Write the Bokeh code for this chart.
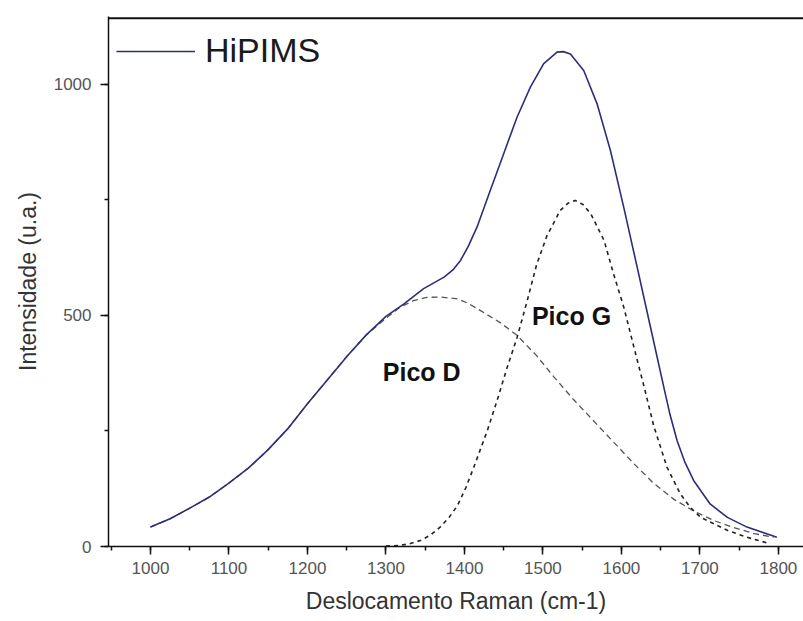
from bokeh.plotting import figure
from bokeh.models import (Range1d, SingleIntervalTicker, Span, Legend, LegendItem)
from bokeh.core.properties import value
from bokeh.embed import file_html
from bokeh.resources import INLINE

# ---- data ----
raman_hipims = [1000, 1025, 1049, 1075, 1099, 1125, 1149, 1175, 1200, 1225, 1251, 1275,
                1300, 1323, 1348, 1374, 1385, 1395, 1405, 1416, 1433, 1450, 1467, 1484,
                1501, 1518, 1526, 1535, 1552, 1569, 1586, 1603, 1620, 1637, 1654, 1662,
                1671, 1681, 1692, 1713, 1735, 1760, 1798]
int_hipims = [42, 60, 82, 107, 136, 170, 208, 255, 309, 360, 413, 458,
              498, 525, 558, 583, 598, 619, 650, 691, 771, 850, 929, 994,
              1045, 1070, 1071, 1066, 1030, 958, 857, 734, 605, 475, 345, 285,
              229, 182, 143, 92, 63, 42, 20]

raman_d = [1000, 1025, 1049, 1075, 1099, 1125, 1149, 1175, 1200, 1225, 1251, 1275,
           1300, 1318, 1335, 1352, 1369, 1391, 1405, 1420, 1446, 1467, 1492, 1514,
           1539, 1565, 1590, 1616, 1641, 1667, 1692, 1718, 1743, 1769, 1794]
int_d = [42, 60, 82, 107, 136, 170, 208, 255, 309, 360, 413, 458,
         494, 518, 532, 539, 540, 536, 526, 511, 484, 457, 413, 367,
         318, 271, 226, 179, 137, 102, 77, 56, 41, 28, 20]

raman_g = [1300, 1316, 1330, 1344, 1357, 1369, 1380, 1391, 1402, 1412, 1429, 1442,
           1454, 1467, 1480, 1492, 1505, 1522, 1532, 1541, 1551, 1561, 1578, 1590,
           1603, 1616, 1629, 1641, 1658, 1675, 1688, 1701, 1735, 1760, 1785]
int_g = [1, 2, 6, 13, 25, 42, 62, 88, 128, 172, 250, 318,
         385, 452, 532, 610, 672, 727, 743, 749, 740, 720, 662, 590,
         518, 431, 345, 262, 172, 114, 84, 63, 35, 20, 8]

legend_label = "HiPIMS"
peak_labels = ["Pico D", "Pico G"]
peak_label_x = [1296, 1486]
peak_label_y = [377, 498]

x_title = "Deslocamento Raman (cm-1)"
y_title = "Intensidade (u.a.)"

FONT = "Liberation Sans"

p = figure(width=803, height=621, output_backend="svg", toolbar_location=None,
           x_range=Range1d(946.5, 1832), y_range=Range1d(0, 1147),
           min_border_left=108, min_border_right=0, min_border_top=16,
           min_border_bottom=75)
p.outline_line_color = None
p.xgrid.visible = False
p.ygrid.visible = False
p.background_fill_color = "white"
p.border_fill_color = "white"

# axes
for ax in (p.xaxis[0], p.yaxis[0]):
    ax.axis_line_color = "#111111"
    ax.axis_line_width = 1.5
    ax.major_tick_line_color = "#111111"
    ax.major_tick_line_width = 1.5
    ax.minor_tick_line_color = "#111111"
    ax.minor_tick_line_width = 1.5
    ax.major_tick_in = 0
    ax.major_tick_out = 8
    ax.minor_tick_in = 0
    ax.minor_tick_out = 4
    ax.major_label_text_font = FONT
    ax.major_label_text_font_size = "17px"
    ax.major_label_text_color = "#555555"
    ax.axis_label_text_font = FONT
    ax.axis_label_text_font_style = "normal"
    ax.axis_label_text_font_size = "23px"
    ax.axis_label_text_color = "#333333"

p.xaxis.ticker = SingleIntervalTicker(interval=100, num_minor_ticks=2)
p.yaxis.ticker = SingleIntervalTicker(interval=500, num_minor_ticks=2)
p.xaxis.axis_label = x_title
p.yaxis.axis_label = y_title
p.xaxis.major_label_standoff = 7
p.xaxis.axis_label_standoff = 11
p.yaxis.major_label_standoff = 9
p.yaxis.axis_label_standoff = 10

# top border line
p.add_layout(Span(location=1143, dimension="width", line_color="#111111", line_width=2))

# curves
r_d = p.line(raman_d, int_d, line_color="#555555", line_width=1.3, line_dash="6 4",
             line_join="round")
r_g = p.line(raman_g, int_g, line_color="#222222", line_width=1.6, line_dash="4 4",
             line_join="round")
r_h = p.line(raman_hipims, int_hipims, line_color="#2e2e78", line_width=1.6,
             line_join="round")

p.text(x=peak_label_x, y=peak_label_y, text=peak_labels,
       text_font=value(FONT), text_font_style="bold", text_font_size="25px",
       text_color="#111111", text_align="left", text_baseline="middle")

legend = Legend(items=[LegendItem(label=legend_label, renderers=[r_h])],
                location=(8, 476), margin=0, padding=0,
                border_line_color=None, background_fill_alpha=0,
                glyph_width=79, glyph_height=30, label_standoff=10,
                label_text_font=FONT, label_text_font_size="34px",
                label_text_color="#1a1a1a", label_text_baseline="middle")
p.add_layout(legend)

open("out.html", "w").write(file_html(p, INLINE))
